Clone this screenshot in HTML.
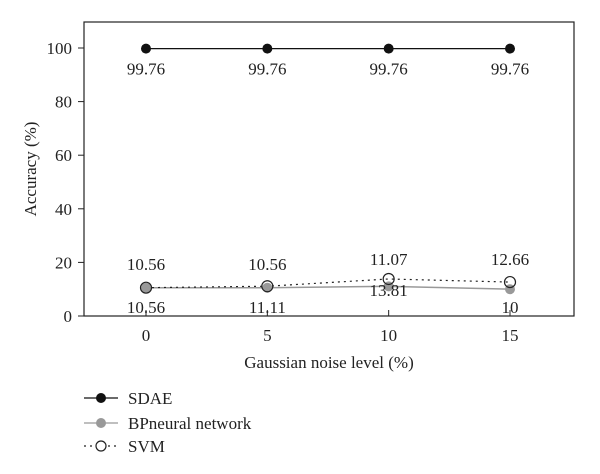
<!DOCTYPE html>
<html><head><meta charset="utf-8"><style>
body{margin:0;background:#fff;}
svg{display:block;font-family:"Liberation Serif",serif;}
</style></head><body>
<svg id="chart" width="600" height="474"></svg>
<script>
const categories=[0,5,10,15];
const sdaeValues=[99.76,99.76,99.76,99.76];
const bpValues=[10.56,10.56,11.07,10];
const svmValues=[10.56,11.11,13.81,12.66];
const sdaeLabels=["99.76","99.76","99.76","99.76"];
const upperLabels=["10.56","10.56","11.07","12.66"];
const lowerLabels=["10.56","11.11","13.81","10"];
const yTicks=[0,20,40,60,80,100];
const NS="http://www.w3.org/2000/svg";
const svg=document.getElementById('chart');
const L=84,R=574,T=22,B=316;
const x=v=>146+(v-0)*(510-146)/15;
const y=v=>B-v*(B-48)/100;
function el(tag,attrs,parent,name,inter){const e=document.createElementNS(NS,tag);for(const k in attrs)e.setAttribute(k,attrs[k]);(parent||svg).appendChild(e);


return e;}
function txt(s,a,name){const t=el('text',a,svg,name,false);t.textContent=s;return t;}
el('rect',{x:L,y:T,width:R-L,height:B-T,fill:'none',stroke:'#222','stroke-width':1.2},svg,'plot-frame',false);
yTicks.forEach(v=>{el('line',{x1:L-6,x2:L,y1:y(v),y2:y(v),stroke:'#222'},svg,'y-tick',false);
txt(v,{x:L-12,y:y(v)+6,'text-anchor':'end','font-size':17,fill:'#222'},'y-tick-label');});
categories.forEach(c=>{el('line',{x1:x(c),x2:x(c),y1:B,y2:B-6,stroke:'#222'},svg,'x-tick',false);
txt(c,{x:x(c),y:B+25,'text-anchor':'middle','font-size':17,fill:'#222'},'x-tick-label');});
txt('Accuracy (%)',{x:0,y:0,transform:`translate(36,${(T+B)/2}) rotate(-90)`,'text-anchor':'middle','font-size':17,fill:'#222'},'y-axis-title');
txt('Gaussian noise level (%)',{x:(L+R)/2,y:B+52,'text-anchor':'middle','font-size':17,fill:'#222'},'x-axis-title');
function pts(vals){return vals.map((v,i)=>x(categories[i])+','+y(v)).join(' ');}
el('polyline',{points:pts(sdaeValues),fill:'none',stroke:'#111','stroke-width':1.2},svg,'sdae-line',false);
el('polyline',{points:pts(bpValues),fill:'none',stroke:'#999','stroke-width':1.5},svg,'bp-line',false);
el('polyline',{points:pts(svmValues),fill:'none',stroke:'#222','stroke-width':1.2,'stroke-dasharray':'2,4'},svg,'svm-line',false);
categories.forEach((c,i)=>{
el('circle',{cx:x(c),cy:y(sdaeValues[i]),r:5,fill:'#111'},svg,'sdae-point',false);
el('circle',{cx:x(c),cy:y(bpValues[i]),r:5,fill:'#999'},svg,'bp-point',false);
el('circle',{cx:x(c),cy:y(svmValues[i]),r:5.5,fill:'none',stroke:'#222','stroke-width':1.2},svg,'svm-point',false);
txt(sdaeLabels[i],{x:x(c),y:y(sdaeValues[i])+26,'text-anchor':'middle','font-size':17,fill:'#222'},'sdae-value-label');
txt(upperLabels[i],{x:x(c),y:i<2?270:265,'text-anchor':'middle','font-size':17,fill:'#222'},'upper-value-label');
txt(lowerLabels[i],{x:x(c),y:i==2?296:313,'text-anchor':'middle','font-size':17,fill:'#222'},'lower-value-label');
});
const leg=[['SDAE',398,'#111','none',true],['BPneural network',423,'#999','none',true],['SVM',446,'#222','2,4',false]];
leg.forEach(l=>{
el('line',{x1:84,x2:118,y1:l[1],y2:l[1],stroke:l[2],'stroke-width':1.3,'stroke-dasharray':l[3]},svg,'legend-line',false);
if(l[4])el('circle',{cx:101,cy:l[1],r:5,fill:l[2]},svg,'legend-marker',false);
else el('circle',{cx:101,cy:l[1],r:5,fill:'#fff',stroke:'#222','stroke-width':1.2},svg,'legend-marker',false);
txt(l[0],{x:128,y:l[1]+6,'font-size':17,fill:'#222'},'legend-label');
});
</script>
</body></html>
